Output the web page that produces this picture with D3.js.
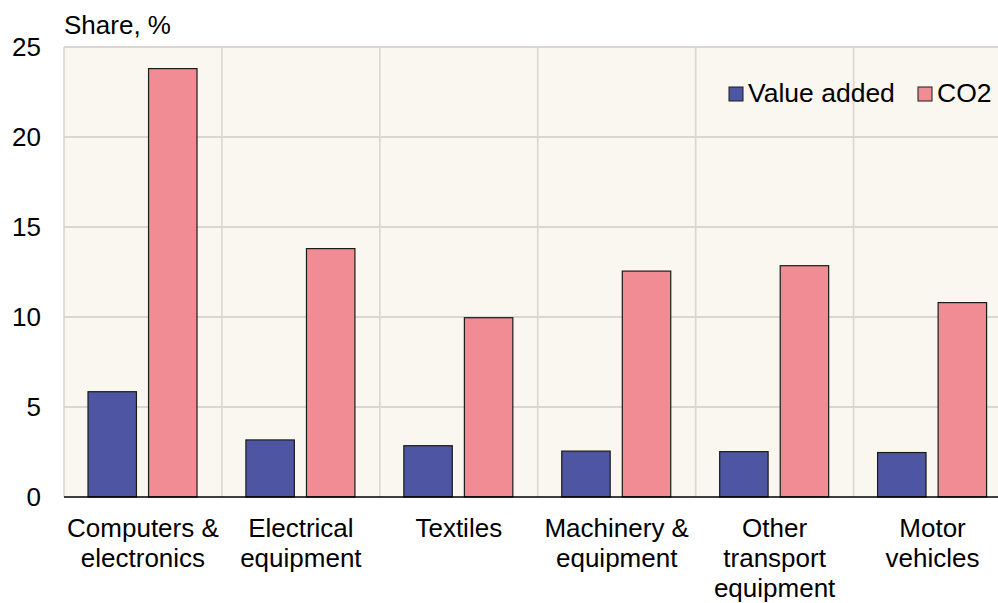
<!DOCTYPE html>
<html>
<head>
<meta charset="utf-8">
<script src="https://cdn.jsdelivr.net/npm/d3@7"></script>
<style>
	body { margin: 0; background: #fff; }
	svg { display: block; font-family: "Liberation Sans", Arial, sans-serif; }
</style>
</head>
<body>
<svg id="chart"></svg>
<script>
/* chart data */
var categories = [
	["Computers &", "electronics"],
	["Electrical", "equipment"],
	["Textiles"],
	["Machinery &", "equipment"],
	["Other", "transport", "equipment"],
	["Motor", "vehicles"]
];
var series = ["Value added", "CO2"];
var value_added = [5.85, 3.17, 2.85, 2.55, 2.52, 2.47];
var co2 = [23.8, 13.8, 9.96, 12.55, 12.85, 10.8];
var y_ticks = [0, 5, 10, 15, 20, 25];

var colors = { "Value added": "#4e55a2", "CO2": "#f28c94" };

var width = 998, height = 603;
var margin = { left: 64, top: 47, bottom: 106 };
var plot_right = 1011.5;

var svg = d3.select("#chart")
	.attr("width", width)
	.attr("height", height);

var rows = categories.map(function(c, i){
	return { label: c, values: [value_added[i], co2[i]] };
});

var x0 = d3.scaleBand()
	.domain(d3.range(categories.length))
	.range([margin.left, plot_right]);

var x1 = d3.scaleBand()
	.domain(series)
	.range([24, 133])
	.paddingInner(0.2);

var y = d3.scaleLinear()
	.domain([0, 25])
	.range([height - margin.bottom, margin.top]);

// plot background
svg.append("rect")
	.attr("x", margin.left)
	.attr("y", y(25))
	.attr("width", plot_right - margin.left)
	.attr("height", y(0) - y(25))
	.attr("fill", "#faf6f0");

// horizontal gridlines
svg.append("g")
	.selectAll("line")
	.data(y_ticks.filter(function(d){ return d > 0; }))
	.enter().append("line")
	.attr("x1", margin.left)
	.attr("x2", plot_right)
	.attr("y1", function(d){ return y(d); })
	.attr("y2", function(d){ return y(d); })
	.attr("stroke", "#cfccc8")
	.attr("stroke-width", 1.6);

// vertical gridlines at band edges
svg.append("g")
	.selectAll("line")
	.data(d3.range(categories.length))
	.enter().append("line")
	.attr("x1", function(d){ return x0(d); })
	.attr("x2", function(d){ return x0(d); })
	.attr("y1", y(25))
	.attr("y2", y(0))
	.attr("stroke", "#d9d6d2")
	.attr("stroke-width", 1.6);

// bars
var group = svg.append("g")
	.selectAll("g")
	.data(rows)
	.enter().append("g")
	.attr("transform", function(d, i){ return "translate(" + x0(i) + ",0)"; });

group.selectAll("rect")
	.data(function(d){
		return d.values.map(function(v, j){ return { key: series[j], value: v }; });
	})
	.enter().append("rect")
	.attr("x", function(d){ return x1(d.key); })
	.attr("y", function(d){ return y(d.value); })
	.attr("width", x1.bandwidth())
	.attr("height", function(d){ return y(0) - y(d.value); })
	.attr("fill", function(d){ return colors[d.key]; })
	.attr("stroke", "#1a1a1a")
	.attr("stroke-width", 1.2);

// zero line
svg.append("line")
	.attr("x1", margin.left)
	.attr("x2", plot_right)
	.attr("y1", y(0))
	.attr("y2", y(0))
	.attr("stroke", "#000")
	.attr("stroke-width", 1.5);

// y axis labels
var y_axis = d3.axisLeft(y)
	.tickValues(y_ticks)
	.tickSize(0)
	.tickPadding(23);

svg.append("g")
	.attr("transform", "translate(" + margin.left + ",0)")
	.call(y_axis)
	.call(function(g){ g.select(".domain").remove(); })
	.selectAll("text")
	.attr("font-size", 26)
	.attr("font-family", "Liberation Sans, Arial, sans-serif")
	.attr("fill", "#000");

// category labels
var cat_label = svg.append("g")
	.selectAll("text")
	.data(rows)
	.enter().append("text")
	.attr("text-anchor", "middle")
	.attr("font-size", 26)
	.attr("fill", "#000")
	.attr("x", function(d, i){ return x0(i) + x0.bandwidth() / 2; })
	.attr("y", 537);

cat_label.selectAll("tspan")
	.data(function(d){ return d.label; })
	.enter().append("tspan")
	.attr("x", function(){ return d3.select(this.parentNode).attr("x"); })
	.attr("dy", function(d, i){ return i == 0 ? 0 : 30; })
	.text(function(d){ return d; });

// axis title
svg.append("text")
	.attr("x", 64)
	.attr("y", 34)
	.attr("font-size", 26)
	.attr("fill", "#000")
	.text("Share, %");

// legend
var legend_x = [729, 918];
var legend = svg.append("g")
	.selectAll("g")
	.data(series)
	.enter().append("g")
	.attr("transform", function(d, i){ return "translate(" + legend_x[i] + ",87)"; });

legend.append("rect")
	.attr("width", 14)
	.attr("height", 14)
	.attr("fill", function(d){ return colors[d]; })
	.attr("stroke", "#1a1a1a")
	.attr("stroke-width", 1);

legend.append("text")
	.attr("x", 19)
	.attr("y", 14.5)
	.attr("font-size", 26.5)
	.attr("fill", "#000")
	.text(function(d){ return d; });
</script>
</body>
</html>
